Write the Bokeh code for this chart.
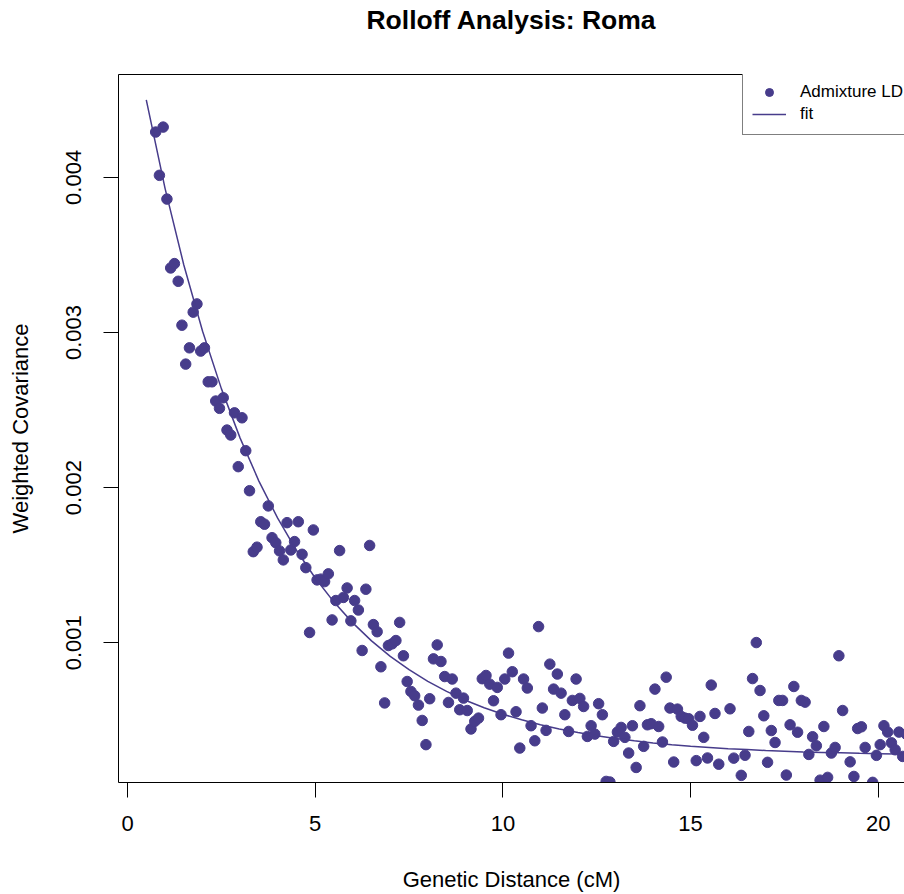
from bokeh.plotting import figure
from bokeh.models import (Range1d, FixedTicker, NumeralTickFormatter, LinearAxis,
                          Legend, LegendItem, ColumnDataSource)
from bokeh.embed import file_html
from bokeh.resources import INLINE

# ---------------- data ----------------
distance_cm = [
    0.75, 0.85, 0.95, 1.05, 1.15, 1.25, 1.35, 1.45, 1.55, 1.65,
    1.75, 1.85, 1.95, 2.05, 2.15, 2.25, 2.35, 2.45, 2.55, 2.65,
    2.75, 2.85, 2.95, 3.05, 3.15, 3.25, 3.35, 3.45, 3.55, 3.65,
    3.75, 3.85, 3.95, 4.05, 4.15, 4.25, 4.35, 4.45, 4.55, 4.65,
    4.75, 4.85, 4.95, 5.05, 5.15, 5.25, 5.35, 5.45, 5.55, 5.65,
    5.75, 5.85, 5.95, 6.05, 6.15, 6.25, 6.35, 6.45, 6.55, 6.65,
    6.75, 6.85, 6.95, 7.05, 7.15, 7.25, 7.35, 7.45, 7.55, 7.65,
    7.75, 7.85, 7.95, 8.05, 8.15, 8.25, 8.35, 8.45, 8.55, 8.65,
    8.75, 8.85, 8.95, 9.05, 9.15, 9.25, 9.35, 9.45, 9.55, 9.65,
    9.75, 9.85, 9.95, 10.05, 10.15, 10.25, 10.35, 10.45, 10.55, 10.65,
    10.75, 10.85, 10.95, 11.05, 11.15, 11.25, 11.35, 11.45, 11.55, 11.65,
    11.75, 11.85, 11.95, 12.05, 12.15, 12.25, 12.35, 12.45, 12.55, 12.65,
    12.75, 12.85, 12.95, 13.05, 13.15, 13.25, 13.35, 13.45, 13.55, 13.65,
    13.75, 13.85, 13.95, 14.05, 14.15, 14.25, 14.35, 14.45, 14.55, 14.65,
    14.75, 14.85, 14.95, 15.05, 15.15, 15.25, 15.35, 15.45, 15.55, 15.65,
    15.75, 15.85, 15.95, 16.05, 16.15, 16.25, 16.35, 16.45, 16.55, 16.65,
    16.75, 16.85, 16.95, 17.05, 17.15, 17.25, 17.35, 17.45, 17.55, 17.65,
    17.75, 17.85, 17.95, 18.05, 18.15, 18.25, 18.35, 18.45, 18.55, 18.65,
    18.75, 18.85, 18.95, 19.05, 19.15, 19.25, 19.35, 19.45, 19.55, 19.65,
    19.75, 19.85, 19.95, 20.05, 20.15, 20.25, 20.35, 20.45, 20.55, 20.65,
    20.75,
]

weighted_cov = [
    0.004292, 0.004013, 0.004324, 0.003860, 0.003416, 0.003444, 0.003330, 0.003047, 0.002796, 0.002901,
    0.003131, 0.003184, 0.002880, 0.002901, 0.002682, 0.002682, 0.002558, 0.002511, 0.002579, 0.002371,
    0.002339, 0.002482, 0.002135, 0.002450, 0.002238, 0.001980, 0.001587, 0.001616, 0.001780, 0.001764,
    0.001882, 0.001677, 0.001645, 0.001592, 0.001534, 0.001774, 0.001598, 0.001652, 0.001780, 0.001570,
    0.001484, 0.001066, 0.001727, 0.001405, 0.001410, 0.001394, 0.001444, 0.001147, 0.001272, 0.001594,
    0.001292, 0.001353, 0.001141, 0.001272, 0.001211, 0.000950, 0.001345, 0.001627, 0.001117, 0.001071,
    0.000845, 0.000612, 0.000982, 0.000993, 0.001014, 0.001131, 0.000916, 0.000750, 0.000686, 0.000658,
    0.000598, 0.000499, 0.000343, 0.000639, 0.000896, 0.000986, 0.000879, 0.000782, 0.000615, 0.000766,
    0.000675, 0.000568, 0.000643, 0.000563, 0.000444, 0.000493, 0.000514, 0.000768, 0.000789, 0.000733,
    0.000626, 0.000712, 0.000536, 0.000766, 0.000933, 0.000813, 0.000555, 0.000321, 0.000766, 0.000708,
    0.000465, 0.000368, 0.001104, 0.000579, 0.000435, 0.000862, 0.000701, 0.000798, 0.000675, 0.000536,
    0.000428, 0.000628, 0.000766, 0.000641, 0.000589, 0.000396, 0.000465, 0.000411, 0.000607, 0.000536,
    0.000106, 0.000102, 0.000364, 0.000424, 0.000454, 0.000390, 0.000289, 0.000465, 0.000196, 0.000594,
    0.000332, 0.000471, 0.000478, 0.000701, 0.000460, 0.000360, 0.000778, 0.000579, 0.000231, 0.000572,
    0.000525, 0.000514, 0.000510, 0.000468, 0.000240, 0.000525, 0.000390, 0.000257, 0.000727, 0.000544,
    0.000217, 0.000050, 0.000060, 0.000574, 0.000256, 0.000040, 0.000145, 0.000275, 0.000428, 0.000769,
    0.001001, 0.000692, 0.000529, 0.000229, 0.000434, 0.000357, 0.000628, 0.000628, 0.000147, 0.000471,
    0.000718, 0.000423, 0.000628, 0.000617, 0.000280, 0.000394, 0.000336, 0.000114, 0.000460, 0.000132,
    0.000289, 0.000325, 0.000916, 0.000563, 0.000050, 0.000232, 0.000138, 0.000447, 0.000458, 0.000325,
    0.000060, 0.000100, 0.000274, 0.000343, 0.000465, 0.000424, 0.000355, 0.000310, 0.000424, 0.000267,
    0.000410,
]

fit_x = [0.5, 1.0, 1.5, 2.0, 2.5, 3.0, 3.5, 4.0, 4.5, 5.0, 5.5, 6.0, 6.5, 7.0, 7.5, 8.0,
         8.5, 9.0, 9.5, 10.0, 10.5, 11.0, 11.5, 12.0, 12.5, 13.0, 13.5, 14.0, 14.5,
         15.0, 15.5, 16.0, 16.5, 17.0, 17.5, 18.0, 18.5, 19.0, 19.5, 20.0, 20.5, 21.0]
fit_y = [0.004500, 0.003929, 0.003435, 0.003008, 0.002638, 0.002319, 0.002042, 0.001803,
         0.001596, 0.001417, 0.001262, 0.001128, 0.001012, 0.000912, 0.000826, 0.000751,
         0.000686, 0.000629, 0.000581, 0.000539, 0.000503, 0.000471, 0.000444, 0.000421,
         0.000400, 0.000383, 0.000368, 0.000354, 0.000343, 0.000333, 0.000325, 0.000317,
         0.000311, 0.000305, 0.000301, 0.000296, 0.000293, 0.000290, 0.000287, 0.000285,
         0.000283, 0.000281]

x_ticks = [0, 5, 10, 15, 20]
y_ticks = [0.001, 0.002, 0.003, 0.004]

TITLE = "Rolloff Analysis: Roma"
X_LABEL = "Genetic Distance (cM)"
Y_LABEL = "Weighted Covariance"
SERIES_LABELS = ["Admixture LD", "fit"]

# ---------------- styling ----------------
FONT = "Liberation Sans"
COLOR = "#473C8B"
X_START, X_END = -0.24, 20.698
Y_START, Y_END = 0.000099, 0.004663

p = figure(width=904, height=894, output_backend="svg", toolbar_location=None,
           x_range=Range1d(X_START, X_END), y_range=Range1d(Y_START, Y_END),
           x_axis_location=None, y_axis_location=None,
           min_border_left=118, min_border_right=0, min_border_top=74, min_border_bottom=111,
           background_fill_color="white", border_fill_color="white")
p.outline_line_color = None
for g in p.grid:
    g.visible = False

p.title.text = TITLE
p.title.align = "center"
p.title.text_font = FONT
p.title.text_font_size = "26.5px"
p.title.text_font_style = "bold"
p.title.text_color = "black"
p.title.standoff = 4


def style_axis(ax, label, ticks, fmt):
    ax.ticker = FixedTicker(ticks=ticks)
    ax.formatter = NumeralTickFormatter(format=fmt)
    ax.axis_label = label
    ax.axis_label_text_font = FONT
    ax.axis_label_text_font_size = "22px"
    ax.axis_label_text_font_style = "normal"
    ax.axis_label_text_color = "black"
    ax.major_label_text_font = FONT
    ax.major_label_text_font_size = "22px"
    ax.major_label_text_color = "black"
    ax.major_tick_in = 0
    ax.major_tick_out = 15
    ax.major_tick_line_color = "black"
    ax.minor_tick_line_color = None
    ax.axis_line_color = "black"


xaxis = LinearAxis()
style_axis(xaxis, X_LABEL, x_ticks, "0")
xaxis.major_label_standoff = 18
xaxis.axis_label_standoff = 33
p.add_layout(xaxis, "below")

yaxis = LinearAxis()
style_axis(yaxis, Y_LABEL, y_ticks, "0.000")
yaxis.major_label_orientation = "vertical"
yaxis.major_label_standoff = 22
yaxis.axis_label_standoff = 31
p.add_layout(yaxis, "left")

# top side of the box; an invisible tick gives the space that lifts the title
top_axis = LinearAxis(ticker=FixedTicker(ticks=[10]), axis_line_color="black",
                      major_tick_line_color=None, minor_tick_line_color=None,
                      major_tick_in=0, major_tick_out=38, major_label_standoff=0,
                      major_label_text_font_size="0px",
                      major_label_overrides={10: ""})
p.add_layout(top_axis, "above")

src = ColumnDataSource(dict(x=distance_cm, y=weighted_cov))
r_pts = p.scatter(x="x", y="y", source=src, size=10.5, fill_color=COLOR, line_color=COLOR)
r_fit = p.line(fit_x, fit_y, line_color=COLOR, line_width=1.5)

legend = Legend(items=[LegendItem(label=SERIES_LABELS[0], renderers=[r_pts]),
                       LegendItem(label=SERIES_LABELS[1], renderers=[r_fit])],
                location=(624, 647), padding=9, spacing=0, margin=0,
                glyph_width=34, glyph_height=20, label_height=22, label_standoff=14,
                label_text_font=FONT, label_text_font_size="17px", label_text_color="black",
                border_line_color="black", border_line_width=1,
                background_fill_color="white", background_fill_alpha=1.0)
p.add_layout(legend, "center")

open("out.html", "w").write(file_html(p, INLINE))
